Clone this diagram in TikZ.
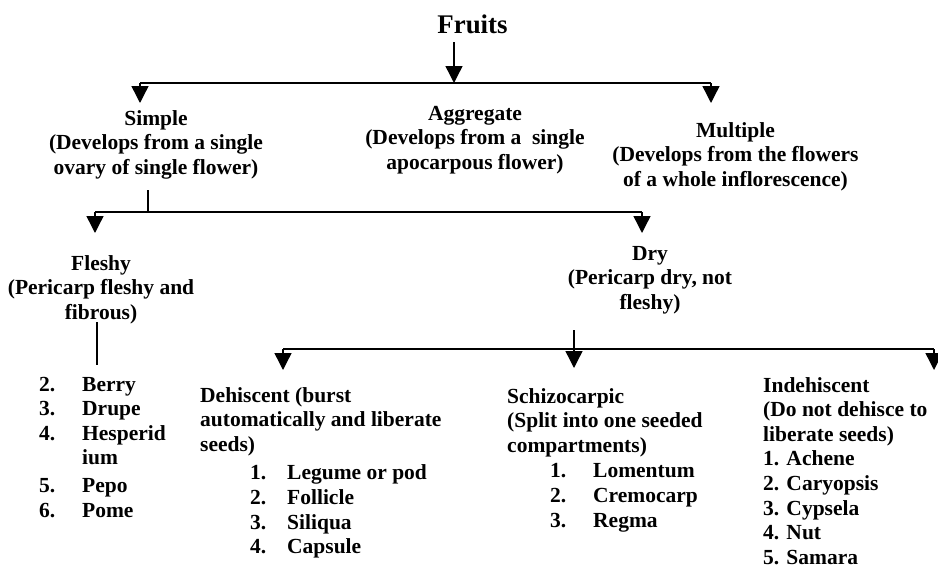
\documentclass[tikz,border=0pt]{standalone}
\usepackage{fontspec}
\setmainfont{Liberation Serif}
\usetikzlibrary{arrows.meta}
\newcommand{\bodyfont}{\fontsize{21.5}{24.6}\selectfont\bfseries}
\newcommand{\itm}[2]{\makebox[#1][l]{#2}}
\begin{document}
\begin{tikzpicture}[x=1pt,y=-1pt,
  txt/.style={inner sep=0pt,font=\bodyfont},
  bar/.style={line width=1.4pt},
  arr/.style={line width=1.4pt,-{Triangle[width=17pt,length=17pt]}},
  stem/.style={line width=1.4pt}]
\useasboundingbox (0,0) rectangle (938,565);

% texts
\node[inner sep=0pt,font=\fontsize{26.9}{30}\selectfont\bfseries,anchor=base] (fruits) at (472.5,33) {Fruits};
\node[txt,anchor=base] (simple) at (156,125) {\begin{tabular}[t]{@{}c@{}}Simple\\(Develops from a single\\ovary of single flower)\end{tabular}};
\node[txt,anchor=base] (aggregate) at (475,120) {\begin{tabular}[t]{@{}c@{}}Aggregate\\(Develops from a \ single\\apocarpous flower)\end{tabular}};
\node[txt,anchor=base] (multiple) at (735.5,137) {\begin{tabular}[t]{@{}c@{}}Multiple\\(Develops from the flowers\\of a whole inflorescence)\end{tabular}};
\node[txt,anchor=base] (fleshy) at (101,270) {\begin{tabular}[t]{@{}c@{}}Fleshy\\(Pericarp fleshy and\\fibrous)\end{tabular}};
\node[txt,anchor=base] (dry) at (650,260) {\begin{tabular}[t]{@{}c@{}}Dry\\(Pericarp dry, not\\fleshy)\end{tabular}};
\node[txt,anchor=base west] (fleshylist) at (39,391) {\begin{tabular}[t]{@{}l@{}}\itm{43pt}{2.}Berry\\\itm{43pt}{3.}Drupe\\\itm{43pt}{4.}Hesperid\\\itm{43pt}{}ium\\[3pt]\itm{43pt}{5.}Pepo\\\itm{43pt}{6.}Pome\end{tabular}};
\node[txt,anchor=base west] (dehiscent) at (200,402) {\begin{tabular}[t]{@{}l@{}}Dehiscent (burst\\automatically and liberate\\seeds)\\[4pt]\hspace{50pt}\itm{37pt}{1.}Legume or pod\\\hspace{50pt}\itm{37pt}{2.}Follicle\\\hspace{50pt}\itm{37pt}{3.}Siliqua\\\hspace{50pt}\itm{37pt}{4.}Capsule\end{tabular}};
\node[txt,anchor=base west] (schizo) at (507,403) {\begin{tabular}[t]{@{}l@{}}Schizocarpic\\(Split into one seeded\\compartments)\\[1pt]\hspace{43pt}\itm{43pt}{1.}Lomentum\\\hspace{43pt}\itm{43pt}{2.}Cremocarp\\\hspace{43pt}\itm{43pt}{3.}Regma\end{tabular}};
\node[txt,anchor=base west] (indehiscent) at (763,392) {\begin{tabular}[t]{@{}l@{}}Indehiscent\\(Do not dehisce to\\liberate seeds)\\1. Achene\\2. Caryopsis\\3. Cypsela\\4. Nut\\5. Samara\end{tabular}};

% level 1
\coordinate (f1) at (454,42);
\coordinate (b1L) at (140,83);
\coordinate (b1M) at (454,83);
\coordinate (b1R) at (711,83);
\draw[bar] (b1L) -- (b1R);
\draw[arr] (f1) -- (b1M);
\draw[arr] (b1L) -- ++(0,20);
\draw[arr] (b1R) -- ++(0,20);

% level 2
\coordinate (s1) at (148,190);
\coordinate (b2M) at (148,212);
\coordinate (b2L) at (95,212);
\coordinate (b2R) at (642,212);
\draw[stem] (s1) -- (b2M);
\draw[bar] (b2L) -- (b2R);
\draw[arr] (b2L) -- ++(0,21);
\draw[arr] (b2R) -- ++(0,21);

% fleshy stem
\coordinate (fl1) at (97,322);
\coordinate (fl2) at (97,365);
\draw[stem] (fl1) -- (fl2);

% level 3
\coordinate (d1) at (574,330);
\coordinate (d2) at (574,368);
\coordinate (b3L) at (283,349);
\coordinate (b3R) at (934,349);
\draw[bar] (b3L) -- (b3R);
\draw[arr] (d1) -- (d2);
\draw[arr] (b3L) -- ++(0,21);
\draw[arr] (b3R) -- ++(0,21);
\end{tikzpicture}
\end{document}
